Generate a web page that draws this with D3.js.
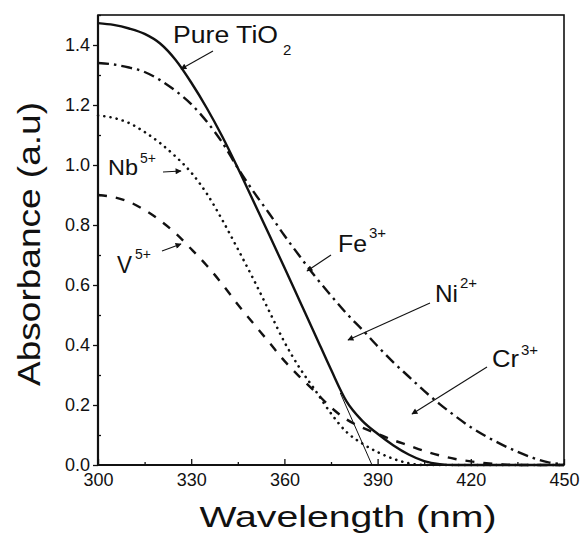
<!DOCTYPE html>
<html><head><meta charset="utf-8">
<script src="https://cdn.jsdelivr.net/npm/d3@7"></script>
<style>body{margin:0;background:#fff}svg{display:block}text{font-family:Arial,"Liberation Sans",Helvetica,sans-serif;fill:#111}</style>
</head><body><svg id="c" width="587" height="534"></svg>
<script>
// Wavelength grid (nm)
const wavelengths = [300,305,310,315,320,325,330,335,340,345,350,355,360,365,370,375,380,385,390,395,400,405,410,415,420,425,430,435,440,445,450];
// Series values (absorbance, a.u.)
const pureTiO2 = [1.473,1.467,1.455,1.437,1.405,1.35,1.275,1.19,1.095,0.99,0.88,0.77,0.658,0.545,0.432,0.318,0.212,0.148,0.104,0.066,0.035,0.013,0.003,0,0,0,0,0,0,0,0];
const dashDot  = [1.34,1.335,1.325,1.31,1.283,1.247,1.203,1.145,1.075,0.99,0.912,0.84,0.765,0.695,0.627,0.565,0.505,0.452,0.396,0.343,0.295,0.247,0.203,0.163,0.126,0.095,0.068,0.044,0.024,0.009,0.002];
const nb5 = [1.165,1.157,1.14,1.11,1.073,1.028,0.975,0.905,0.817,0.72,0.62,0.515,0.41,0.322,0.248,0.172,0.11,0.072,0.043,0.021,0.006,0,0,0,0,0,0,0,0,0,0];
const v5  = [0.90,0.893,0.877,0.85,0.815,0.772,0.72,0.665,0.603,0.535,0.472,0.41,0.347,0.293,0.243,0.192,0.152,0.125,0.104,0.083,0.065,0.047,0.032,0.02,0.012,0.006,0.002,0,0,0,0];
// Band-gap tangent line for pure TiO2
const tangentX = [378.0, 388.2];
const tangentY = [0.24, 0];
// Ticks
const xMajor = [300,330,360,390,420,450];
const xMinor = [315,345,375,405,435];
const yMajor = [0,0.2,0.4,0.6,0.8,1.0,1.2,1.4];
const yMinor = [0.1,0.3,0.5,0.7,0.9,1.1,1.3,1.5];

const svg = d3.select("#c");
const L=98,T=15,R=564,B=465;
const x = d3.scaleLinear().domain([300,450]).range([L,R]);
const y = d3.scaleLinear().domain([0,1.5]).range([B,T]);

// axes
svg.append("g").attr("transform",`translate(0,${B})`)
  .call(d3.axisBottom(x).tickValues(xMajor).tickSizeInner(-6).tickSizeOuter(0).tickPadding(8).tickFormat(d3.format("d")));
svg.append("g").attr("transform",`translate(0,${B})`)
  .call(d3.axisBottom(x).tickValues(xMinor).tickSizeInner(-3).tickSizeOuter(0).tickFormat(""));
svg.append("g").attr("transform",`translate(${L},0)`)
  .call(d3.axisLeft(y).tickValues(yMajor).tickSizeInner(5).tickSizeOuter(0).tickPadding(3).tickFormat(d3.format(".1f")));
svg.append("g").attr("transform",`translate(${L},0)`)
  .call(d3.axisLeft(y).tickValues(yMinor).tickSizeInner(-3).tickSizeOuter(0).tickFormat(""));
svg.selectAll(".domain").remove();
svg.selectAll(".tick line").attr("stroke","#111").attr("stroke-width",1.3);
svg.selectAll(".tick text").attr("font-size",18).style("fill","#111");

// frame
svg.append("rect").attr("x",L).attr("y",T).attr("width",R-L).attr("height",B-T)
  .attr("fill","none").attr("stroke","#111").attr("stroke-width",1.6);
svg.append("line").attr("x1",L).attr("x2",L).attr("y1",T).attr("y2",B).attr("stroke","#111").attr("stroke-width",2.2);
svg.append("line").attr("x1",L).attr("x2",R).attr("y1",B).attr("y2",B).attr("stroke","#111").attr("stroke-width",2.2);

const line = d3.line().x(d=>x(d[0])).y(d=>y(d[1])).curve(d3.curveMonotoneX);
function series(vals, dash, w, cap){
  svg.append("path").datum(wavelengths.map((w0,i)=>[w0,vals[i]]))
    .attr("d",line).attr("fill","none").attr("stroke","#111").attr("stroke-width",w)
    .attr("stroke-dasharray",dash).attr("stroke-linecap",cap);
}
series(v5,"9,9",2.4,"butt");
series(nb5,"0.1,6.2",2.6,"round");
series(dashDot,"11,5,2.5,5",2.4,"butt");
series(pureTiO2,null,2.4,"butt");
svg.append("line").attr("x1",x(tangentX[0])).attr("y1",y(tangentY[0])).attr("x2",x(tangentX[1])).attr("y2",y(tangentY[1]))
  .attr("stroke","#111").attr("stroke-width",1);

// arrow marker
svg.append("defs").append("marker").attr("id","ah").attr("viewBox","0 0 10 10").attr("refX",9).attr("refY",5)
  .attr("markerWidth",7).attr("markerHeight",6).attr("markerUnits","userSpaceOnUse").attr("orient","auto")
  .append("path").attr("d","M0,0L10,5L0,10Z").attr("fill","#111");
const arrows = [[213,51,181,69],[163,172,181,171],[162,251,181,244],[331,255,307,271],[430,303,348,340],[487,367,412,414]];
arrows.forEach(a=>svg.append("line").attr("x1",a[0]).attr("y1",a[1]).attr("x2",a[2]).attr("y2",a[3])
  .attr("stroke","#111").attr("stroke-width",1.1).attr("marker-end","url(#ah)"));

// labels
function lab(t,xx,yy,fs,len,sup,sx,sy,sfs){
  const g = svg.append("text");
  g.append("tspan").attr("x",xx).attr("y",yy).attr("font-size",fs).text(t)
    .attr("textLength",len).attr("lengthAdjust","spacingAndGlyphs");
  g.append("tspan").attr("x",sx).attr("y",sy).attr("font-size",sfs).text(sup);
}
lab("Pure TiO",173,43,23,105,"2",283,55,15);
lab("Nb",108,175,22,30,"5+",140,163,14);
lab("V",117,273,23,15,"5+",135,259,14);
lab("Fe",338,252,24,29,"3+",369,238,15);
lab("Ni",435,302,24,23,"2+",460,288,15);
lab("Cr",492,367,24,27,"3+",521,355,15);

// axis titles
svg.append("text").attr("x",348).attr("y",527).attr("text-anchor","middle").attr("font-size",29)
  .attr("textLength",297).attr("lengthAdjust","spacingAndGlyphs").text("Wavelength (nm)");
svg.append("text").attr("transform","translate(40,244) rotate(-90)").attr("text-anchor","middle").attr("font-size",31)
  .attr("textLength",284).attr("lengthAdjust","spacingAndGlyphs").text("Absorbance (a.u)");
</script></body></html>
